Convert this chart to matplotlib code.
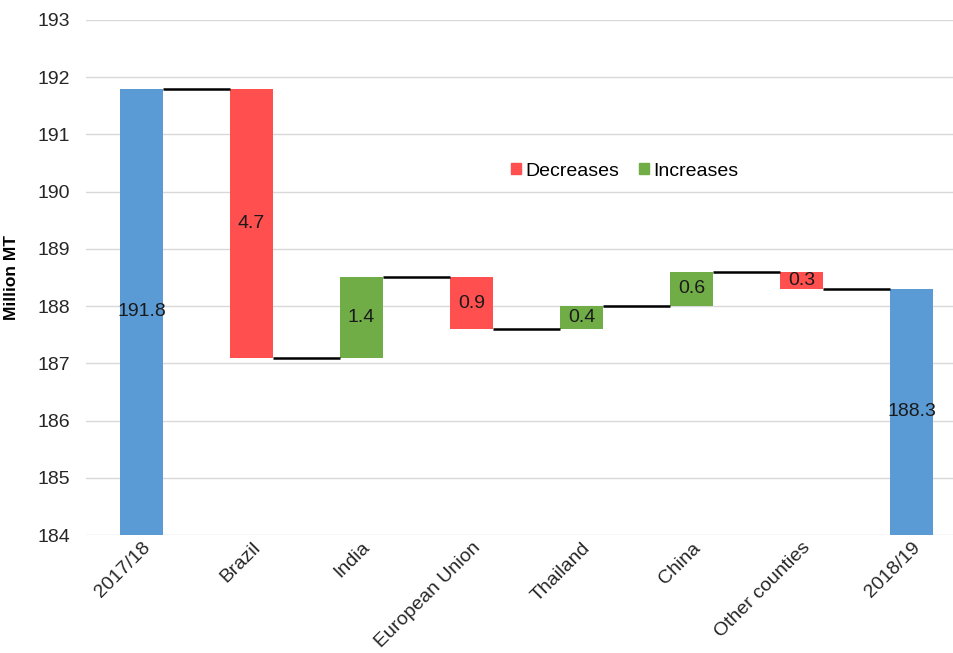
import matplotlib
matplotlib.use("Agg")
import matplotlib.pyplot as plt
from matplotlib.patches import Patch

plt.rcParams['font.family'] = ['Liberation Sans', 'DejaVu Sans']

categories = ["2017/18", "Brazil", "India", "European Union", "Thailand",
              "China", "Other counties", "2018/19"]
start_total = 191.8
changes = [-4.7, 1.4, -0.9, 0.4, 0.6, -0.3]
end_total = 188.3
y_ticks = [184, 185, 186, 187, 188, 189, 190, 191, 192, 193]

BLUE = "#5B9BD5"
RED = "#FF4F4F"
GREEN = "#70AD47"
FS = 14

fig = plt.figure(figsize=(9.54, 6.53), dpi=100)
left_px, right_px, top_px, bottom_px = 86.5, 954.0, 20.0, 535.0
ax = fig.add_axes([left_px / 954, 1 - bottom_px / 653,
                   (right_px - left_px) / 954, (bottom_px - top_px) / 653])

step = 110.0  # pixels per category
ax.set_xlim(-0.5, -0.5 + (right_px - left_px) / step)
ax.set_ylim(184, 193)
ax.set_yticks(y_ticks)
ax.grid(axis="y", color="#D9D9D9", linewidth=1)
ax.set_axisbelow(True)
for s in ax.spines.values():
    s.set_visible(False)
ax.tick_params(axis="both", length=0, labelsize=FS, colors="#262626")
ax.tick_params(axis="y", pad=12)

width = 0.39
ymin = 184

bottoms, heights, colors, labels = [], [], [], []
bottoms.append(ymin)
heights.append(start_total - ymin)
colors.append(BLUE)
labels.append(f"{start_total:.1f}")
running = start_total
levels = [start_total]
for c in changes:
    new = running + c
    bottoms.append(min(running, new))
    heights.append(abs(c))
    colors.append(GREEN if c > 0 else RED)
    labels.append(f"{abs(c):.1f}")
    running = new
    levels.append(running)
bottoms.append(ymin)
heights.append(end_total - ymin)
colors.append(BLUE)
labels.append(f"{end_total:.1f}")

x = list(range(len(categories)))
ax.bar(x, heights, bottom=bottoms, width=width, color=colors, zorder=2)

for xi, b, h, lab in zip(x, bottoms, heights, labels):
    ax.text(xi, b + h / 2, lab, ha="center", va="center", fontsize=FS,
            color="#1a1a1a", zorder=3)

# connectors between consecutive bars at the running total
for i, lvl in enumerate(levels):
    ax.plot([i + width / 2, i + 1 - width / 2], [lvl, lvl], color="black",
            linewidth=1.8, zorder=3, solid_capstyle="butt")

ax.set_xticks(x)
ax.set_xticklabels(categories, rotation=45, ha="right", rotation_mode="anchor")
ax.tick_params(axis="x", pad=3)

ax.set_ylabel("Million MT", fontsize=12.5, fontweight="bold", color="black")
ax.yaxis.set_label_coords((19 - left_px) / (right_px - left_px), 0.5)

handles = [Patch(color=RED, label="Decreases"), Patch(color=GREEN, label="Increases")]
ax.legend(handles=handles, ncol=2, frameon=False, fontsize=FS,
          handlelength=0.5, handleheight=0.5, handletextpad=0.25,
          columnspacing=1.0, loc="center",
          bbox_to_anchor=((625 - left_px) / (right_px - left_px),
                          (bottom_px - 171) / (bottom_px - top_px)))

fig.savefig("out.png", dpi=100)
